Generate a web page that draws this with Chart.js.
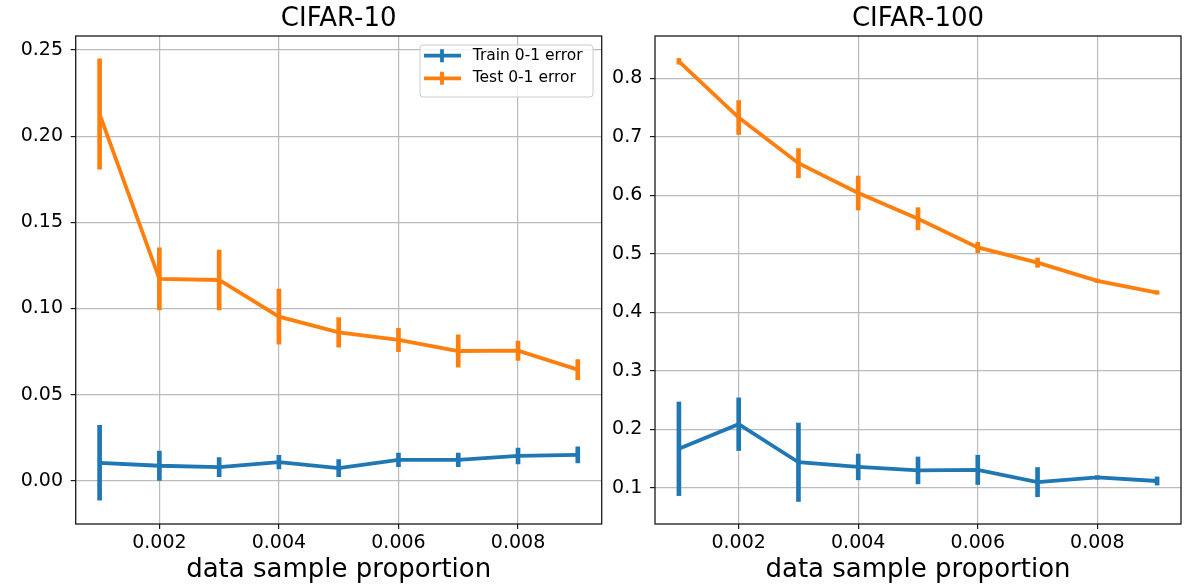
<!DOCTYPE html>
<html>
<head>
<meta charset="utf-8">
<script src="https://cdn.jsdelivr.net/npm/chart.js@4.4.0/dist/chart.umd.min.js"></script>
<style>
html,body{margin:0;padding:0;background:#fff;}
#wrap{position:relative;width:1197px;height:587px;overflow:hidden;}
.panel{position:absolute;top:0;height:587px;}
</style>
</head>
<body>
<div id="wrap">
  <div class="panel" style="left:0;width:610px"><canvas id="c1" width="610" height="587" style="width:610px;height:587px"></canvas></div>
  <div class="panel" style="left:610px;width:587px"><canvas id="c2" width="587" height="587" style="width:587px;height:587px"></canvas></div>
</div>
<script>
// ---- data ----
const xValues = [0.001, 0.002, 0.003, 0.004, 0.005, 0.006, 0.007, 0.008, 0.009];
const xTicks = [0.002, 0.004, 0.006, 0.008];
const c10YTicks = [0.00, 0.05, 0.10, 0.15, 0.20, 0.25];
const c100YTicks = [0.1, 0.2, 0.3, 0.4, 0.5, 0.6, 0.7, 0.8];

const c10TrainMean = [0.0104, 0.0087, 0.0079, 0.0108, 0.0073, 0.0121, 0.0121, 0.0144, 0.0150];
const c10TrainErr  = [0.0217, 0.0085, 0.0055, 0.0039, 0.0050, 0.0039, 0.0039, 0.0046, 0.0047];
const c10TestMean  = [0.2128, 0.1171, 0.1165, 0.0952, 0.0861, 0.0817, 0.0753, 0.0755, 0.0645];
const c10TestErr   = [0.0320, 0.0180, 0.0174, 0.0160, 0.0086, 0.0068, 0.0094, 0.0056, 0.0058];

const c100TrainMean = [0.167, 0.209, 0.144, 0.136, 0.130, 0.131, 0.110, 0.118, 0.112];
const c100TrainErr  = [0.080, 0.045, 0.067, 0.022, 0.023, 0.025, 0.025, 0.003, 0.007];
const c100TestMean  = [0.829, 0.733, 0.655, 0.604, 0.560, 0.511, 0.485, 0.454, 0.434];
const c100TestErr   = [0.005, 0.029, 0.025, 0.029, 0.019, 0.009, 0.008, 0.003, 0.003];

const trainLabel = 'Train 0-1 error';
const testLabel = 'Test 0-1 error';
const xTitle = 'data sample proportion';

// ---- styling ----
const BLUE = '#1f77b4', ORANGE = '#ff7f0e';
const FONT = "'DejaVu Sans', 'Liberation Sans', sans-serif";
Chart.defaults.font.family = FONT;
Chart.defaults.color = '#000';
Chart.defaults.animation = false;

function pts(means) { return xValues.map((x, i) => ({ x: x, y: means[i] })); }
function errs(means, e) { return xValues.map((x, i) => ({ x: x, y: [means[i] - e[i], means[i] + e[i]] })); }

const framePlugin = {
  id: 'frame',
  afterDatasetsDraw(chart) {
    const { ctx, chartArea: a } = chart;
    ctx.save();
    ctx.strokeStyle = '#1a1a1a';
    ctx.lineWidth = 1.3;
    ctx.strokeRect(a.left, a.top, a.right - a.left, a.bottom - a.top);
    ctx.restore();
  }
};

const titleCenter = {
  id: 'titleCenter',
  afterLayout(chart) {
    if (chart.titleBlock) {
      chart.titleBlock.left = chart.chartArea.left;
      chart.titleBlock.right = chart.chartArea.right;
    }
  }
};

const mplLegend = {
  id: 'mplLegend',
  afterDraw(chart, args, opts) {
    if (!opts || !opts.show) return;
    const { ctx, chartArea: a } = chart;
    const items = chart.data.datasets.filter(d => d.legendRank !== undefined)
      .sort((p, q) => p.legendRank - q.legendRank);
    const w = 173, h = 52;
    const x = a.right - 8.7 - w, y = a.top + 9;
    ctx.save();
    ctx.beginPath();
    if (ctx.roundRect) ctx.roundRect(x, y, w, h, 3); else ctx.rect(x, y, w, h);
    ctx.fillStyle = 'rgba(255,255,255,0.8)';
    ctx.fill();
    ctx.strokeStyle = '#cccccc';
    ctx.lineWidth = 1;
    ctx.stroke();
    items.forEach((d, i) => {
      const cy = y + 10.7 + i * 22.6;
      ctx.strokeStyle = d.borderColor;
      ctx.lineWidth = 3.8;
      ctx.beginPath();
      ctx.moveTo(x + 4, cy); ctx.lineTo(x + 41, cy);
      ctx.moveTo(x + 22, cy - 6.5); ctx.lineTo(x + 22, cy + 6.5);
      ctx.stroke();
      ctx.fillStyle = '#000';
      ctx.font = '15.5px ' + FONT;
      ctx.textBaseline = 'middle';
      ctx.textAlign = 'left';
      ctx.fillText(d.label, x + 52.7, cy);
    });
    ctx.restore();
  }
};

function makeChart(id, cfg) {
  const datasets = [
    { type: 'bar', label: testLabel + ' err', data: errs(cfg.testMean, cfg.testErr), backgroundColor: ORANGE, borderWidth: 0, barThickness: 4, grouped: false },
    { type: 'line', label: testLabel, legendRank: 1, data: pts(cfg.testMean), borderColor: ORANGE, backgroundColor: ORANGE, borderWidth: 3.8, pointRadius: 0, tension: 0, fill: false },
    { type: 'bar', label: trainLabel + ' err', data: errs(cfg.trainMean, cfg.trainErr), backgroundColor: BLUE, borderWidth: 0, barThickness: 4, grouped: false },
    { type: 'line', label: trainLabel, legendRank: 0, data: pts(cfg.trainMean), borderColor: BLUE, backgroundColor: BLUE, borderWidth: 3.8, pointRadius: 0, tension: 0, fill: false }
  ];
  const gridStyle = { offset: false, color: 'rgba(176,176,176,0.85)', lineWidth: 1.2, tickColor: '#1a1a1a', tickLength: 5, tickWidth: 1.2 };
  return new Chart(document.getElementById(id), {
    type: 'line',
    data: { datasets: datasets },
    plugins: [framePlugin, titleCenter, mplLegend],
    options: {
      responsive: false,
      devicePixelRatio: 1,
      animation: false,
      layout: { padding: { left: 0, right: cfg.padRight, top: 0, bottom: 0 } },
      plugins: {
        legend: { display: false },
        tooltip: { enabled: false },
        title: {
          display: true, text: cfg.title, color: '#000',
          font: { size: 26, weight: 'normal', family: FONT, lineHeight: 1.2 },
          padding: { top: 3.4, bottom: 1.4 }
        },
        mplLegend: { show: cfg.legend }
      },
      scales: {
        x: {
          type: 'linear', min: 0.0006, max: 0.0094, offset: false,
          afterBuildTicks: s => { s.ticks = xTicks.map(v => ({ value: v })); },
          afterFit: s => { s.height = 63; },
          ticks: { font: { size: 19 }, color: '#000', padding: 2.3, maxRotation: 0, autoSkip: false,
                   callback: v => Number(v).toFixed(3) },
          grid: gridStyle,
          border: { display: false },
          title: { display: true, text: xTitle, color: '#000', font: { size: 26, family: FONT, lineHeight: 1.2 }, padding: { top: 0, bottom: 1 } }
        },
        y: {
          type: 'linear', min: cfg.yMin, max: cfg.yMax,
          afterBuildTicks: s => { s.ticks = cfg.yTicks.map(v => ({ value: v })); },
          afterFit: s => { s.width = cfg.yWidth; },
          ticks: { font: { size: 19 }, color: '#000', padding: 7.7, autoSkip: false,
                   callback: v => Number(v).toFixed(cfg.yDec) },
          grid: gridStyle,
          border: { display: false }
        }
      }
    }
  });
}

makeChart('c1', {
  title: 'CIFAR-10', legend: true,
  trainMean: c10TrainMean, trainErr: c10TrainErr, testMean: c10TestMean, testErr: c10TestErr,
  yTicks: c10YTicks, yMin: -0.0251, yMax: 0.2581, yDec: 2, yWidth: 75.7, padRight: 8.3
});
makeChart('c2', {
  title: 'CIFAR-100', legend: false,
  trainMean: c100TrainMean, trainErr: c100TrainErr, testMean: c100TestMean, testErr: c100TestErr,
  yTicks: c100YTicks, yMin: 0.0385, yMax: 0.8723, yDec: 1, yWidth: 45, padRight: 16
});
</script>
</body>
</html>
